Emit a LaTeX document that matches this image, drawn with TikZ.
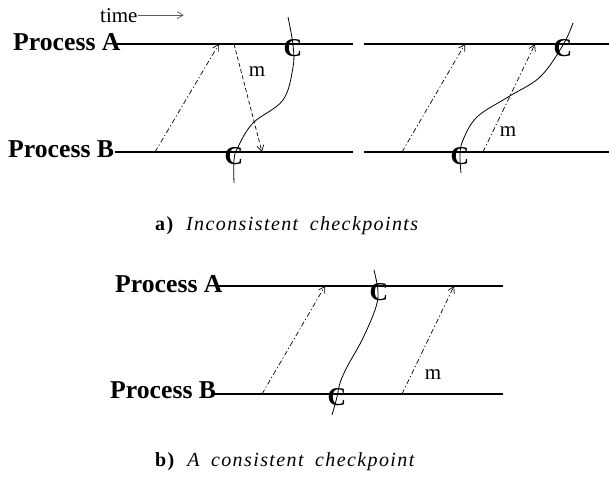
\documentclass[tikz,border=0pt]{standalone}
\usepackage{fontspec}
\setmainfont{Liberation Serif}
\newfontfamily\capfont[LetterSpace=7,WordSpace=1.8]{Liberation Serif}
\usetikzlibrary{arrows.meta}

\begin{document}
\begin{tikzpicture}[x=1pt,y=-1pt,
proc/.style={line width=1.6pt},
msg/.style={->,line width=0.7pt,dash pattern=on 5pt off 2.5pt on 1.2pt off 2.5pt},
msgd/.style={->,line width=0.7pt,dash pattern=on 4pt off 2.5pt},
chk/.style={line width=0.8pt},
plabel/.style={font=\fontsize{25.7}{28}\selectfont\bfseries,inner sep=0pt,anchor=base west},
cp/.style={font=\fontsize{25.7}{28}\selectfont\bfseries,inner sep=0pt},
mlabel/.style={font=\fontsize{21}{24}\selectfont,inner sep=0pt},
caption/.style={font=\capfont\fontsize{20}{22}\selectfont,inner sep=0pt,anchor=base west},
>={Straight Barb[length=6pt,width=7pt,line width=0.7pt]}]
\useasboundingbox (0,0) rectangle (609,482);
% time arrow
\node[anchor=base west,inner sep=0pt,font=\fontsize{21}{24}\selectfont] (time) at (100,22) {time};
\coordinate (timeend) at ([xshift=46pt]time.east);
\draw[->,gray!70!black,line width=0.7pt] (time.east) -- (timeend);
% a) left
\node[plabel] (pa1) at (13,50) {Process A};
\node[plabel] (pb1) at (8,157) {Process B};
\coordinate (a1s) at (117,44); \coordinate (a1e) at (353,44);
\coordinate (b1s) at (115,152); \coordinate (b1e) at (353,152);
\draw[proc] (a1s) -- (a1e);
\draw[proc] (b1s) -- (b1e);
\coordinate (s1) at (155,152); \coordinate (r1) at (219,44);
\coordinate (s2) at (234,44); \coordinate (r2) at (262,152);
\draw[msg] (s1) -- (r1);
\draw[msgd] (s2) -- (r2);
\node[mlabel] (m1) at (257,72) {m};
\draw[chk] plot[smooth,tension=0.6] coordinates {(288,17) (293,45) (293,67) (283,100) (253,123) (238,147) (234,160) (234,183)};
\node[cp] (ca1) at (293,48) {C};
\node[cp] (cb1) at (234,156) {C};
% a) right
\coordinate (a2s) at (364,44); \coordinate (a2e) at (609,44);
\coordinate (b2s) at (364,152); \coordinate (b2e) at (609,152);
\draw[proc] (a2s) -- (a2e);
\draw[proc] (b2s) -- (b2e);
\coordinate (s3) at (402,152); \coordinate (r3) at (465,44);
\coordinate (s4) at (483,152); \coordinate (r4) at (535,44);
\draw[msg] (s3) -- (r3);
\draw[msg] (s4) -- (r4);
\node[mlabel] (m2) at (508,132) {m};
\draw[chk] plot[smooth,tension=0.6] coordinates {(573,23) (563,45) (540,77) (508,97) (477,117) (463,140) (460,155) (461,173)};
\node[cp] (ca2) at (563,48) {C};
\node[cp] (cb2) at (460,156) {C};
\node[caption] (capa) at (155,230) {\textbf{a)} \textit{Inconsistent checkpoints}};
% b)
\node[plabel] (pa3) at (115,292) {Process A};
\node[plabel] (pb3) at (110,398) {Process B};
\coordinate (a3s) at (217,286); \coordinate (a3e) at (503,286);
\coordinate (b3s) at (213,394); \coordinate (b3e) at (503,394);
\draw[proc] (a3s) -- (a3e);
\draw[proc] (b3s) -- (b3e);
\coordinate (s5) at (262,394); \coordinate (r5) at (325,286);
\coordinate (s6) at (402,394); \coordinate (r6) at (454,286);
\draw[msg] (s5) -- (r5);
\draw[msg] (s6) -- (r6);
\node[mlabel] (m3) at (433,375) {m};
\draw[chk] plot[smooth,tension=0.6] coordinates {(374,270) (378,292) (375,310) (362,340) (347,367) (340,383) (337,397) (332,415)};
\node[cp] (ca3) at (379,292) {C};
\node[cp] (cb3) at (337,397) {C};
\node[caption] (capb) at (155,466) {\textbf{b)} \textit{A consistent checkpoint}};
\end{tikzpicture}
\end{document}
